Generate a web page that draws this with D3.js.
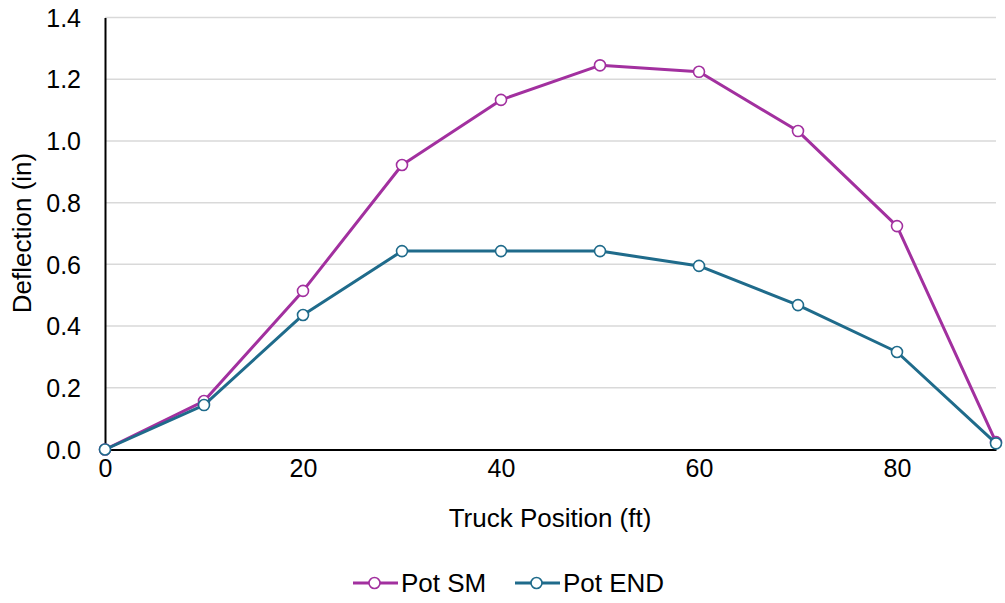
<!DOCTYPE html>
<html>
<head>
<meta charset="utf-8">
<script src="https://cdn.jsdelivr.net/npm/d3@7"></script>
<style>
  body { margin: 0; background: #fff; }
  text { font-family: "Liberation Sans", Arial, sans-serif; fill: #000; }
</style>
</head>
<body>
<script>
// truck position along the span (ft) and measured deflection (in)
var positions = [0, 10, 20, 30, 40, 50, 60, 70, 80, 90];
var potSM  = [0, 0.157, 0.514, 0.922, 1.133, 1.245, 1.224, 1.032, 0.724, 0.024];
var potEND = [0, 0.144, 0.436, 0.643, 0.643, 0.643, 0.595, 0.468, 0.316, 0.020];
var xTicks = [0, 20, 40, 60, 80];
var yTicks = [0, 0.2, 0.4, 0.6, 0.8, 1.0, 1.2, 1.4];

var series = [
  {name: "Pot SM",  values: potSM,  color: "#a2309f"},
  {name: "Pot END", values: potEND, color: "#1f6b8b"}
];

var W = 1005, H = 603;
var tickFont = "25px", titleFont = "26px";
var margin = {top: 17.5, right: 9, bottom: 153.5, left: 105},
    width = W - margin.left - margin.right,
    height = H - margin.top - margin.bottom;

var svg = d3.select("body").append("svg")
    .attr("width", W)
    .attr("height", H);

var g = svg.append("g")
    .attr("transform", "translate(" + margin.left + "," + margin.top + ")");

var x = d3.scaleLinear().domain([0, 90]).range([0, width]);
var y = d3.scaleLinear().domain([0, 1.4]).range([height, 0]);

// horizontal gridlines
g.append("g")
  .selectAll("line")
  .data(yTicks.slice(1))
  .enter().append("line")
    .attr("x1", 0).attr("x2", width)
    .attr("y1", function(d) { return y(d); })
    .attr("y2", function(d) { return y(d); })
    .attr("stroke", "#d9d9d9")
    .attr("stroke-width", 1.5);

// y axis
var yAxis = g.append("g")
    .call(d3.axisLeft(y).tickValues(yTicks).tickFormat(d3.format(".1f")).tickSize(0).tickPadding(24));
yAxis.select(".domain").attr("stroke", "#000").attr("stroke-width", 2);
yAxis.selectAll("text").style("font-size", tickFont).attr("dy", "0.35em");

// x axis
var xAxis = g.append("g")
    .attr("transform", "translate(0," + height + ")")
    .call(d3.axisBottom(x).tickValues(xTicks).tickSize(0).tickPadding(10));
xAxis.select(".domain").attr("stroke", "#000").attr("stroke-width", 2);
xAxis.selectAll("text").style("font-size", tickFont);

// axis titles
svg.append("text")
    .attr("x", 550)
    .attr("y", 518)
    .attr("dy", "0.35em")
    .attr("text-anchor", "middle")
    .style("font-size", titleFont)
    .text("Truck Position (ft)");

svg.append("text")
    .attr("transform", "translate(22,233) rotate(-90)")
    .attr("dy", "0.35em")
    .attr("text-anchor", "middle")
    .style("font-size", titleFont)
    .text("Deflection (in)");

var line = d3.line()
    .x(function(d, i) { return x(positions[i]); })
    .y(function(d) { return y(d); });

var sg = g.selectAll(".series")
  .data(series)
  .enter().append("g")
    .attr("class", "series");

sg.append("path")
    .attr("d", function(s) { return line(s.values); })
    .attr("fill", "none")
    .attr("stroke", function(s) { return s.color; })
    .attr("stroke-width", 3)
    .attr("stroke-linejoin", "round");

sg.selectAll("circle")
  .data(function(s) { return s.values.map(function(v, i) { return {v: v, i: i, color: s.color}; }); })
  .enter().append("circle")
    .attr("cx", function(d) { return x(positions[d.i]); })
    .attr("cy", function(d) { return y(d.v); })
    .attr("r", 5.5)
    .attr("fill", "#fff")
    .attr("stroke", function(d) { return d.color; })
    .attr("stroke-width", 1.6);

// legend
var legendX = [353, 515];
var lg = svg.selectAll(".legend")
  .data(series)
  .enter().append("g")
    .attr("class", "legend")
    .attr("transform", function(d, i) { return "translate(" + legendX[i] + ",583)"; });

lg.append("line")
    .attr("x1", 0).attr("x2", 45)
    .attr("stroke", function(d) { return d.color; })
    .attr("stroke-width", 3);

lg.append("circle")
    .attr("cx", 21.5).attr("r", 5.5)
    .attr("fill", "#fff")
    .attr("stroke", function(d) { return d.color; })
    .attr("stroke-width", 1.6);

lg.append("text")
    .attr("x", 48)
    .attr("dy", "0.35em")
    .style("font-size", titleFont)
    .text(function(d) { return d.name; });
</script>
</body>
</html>
